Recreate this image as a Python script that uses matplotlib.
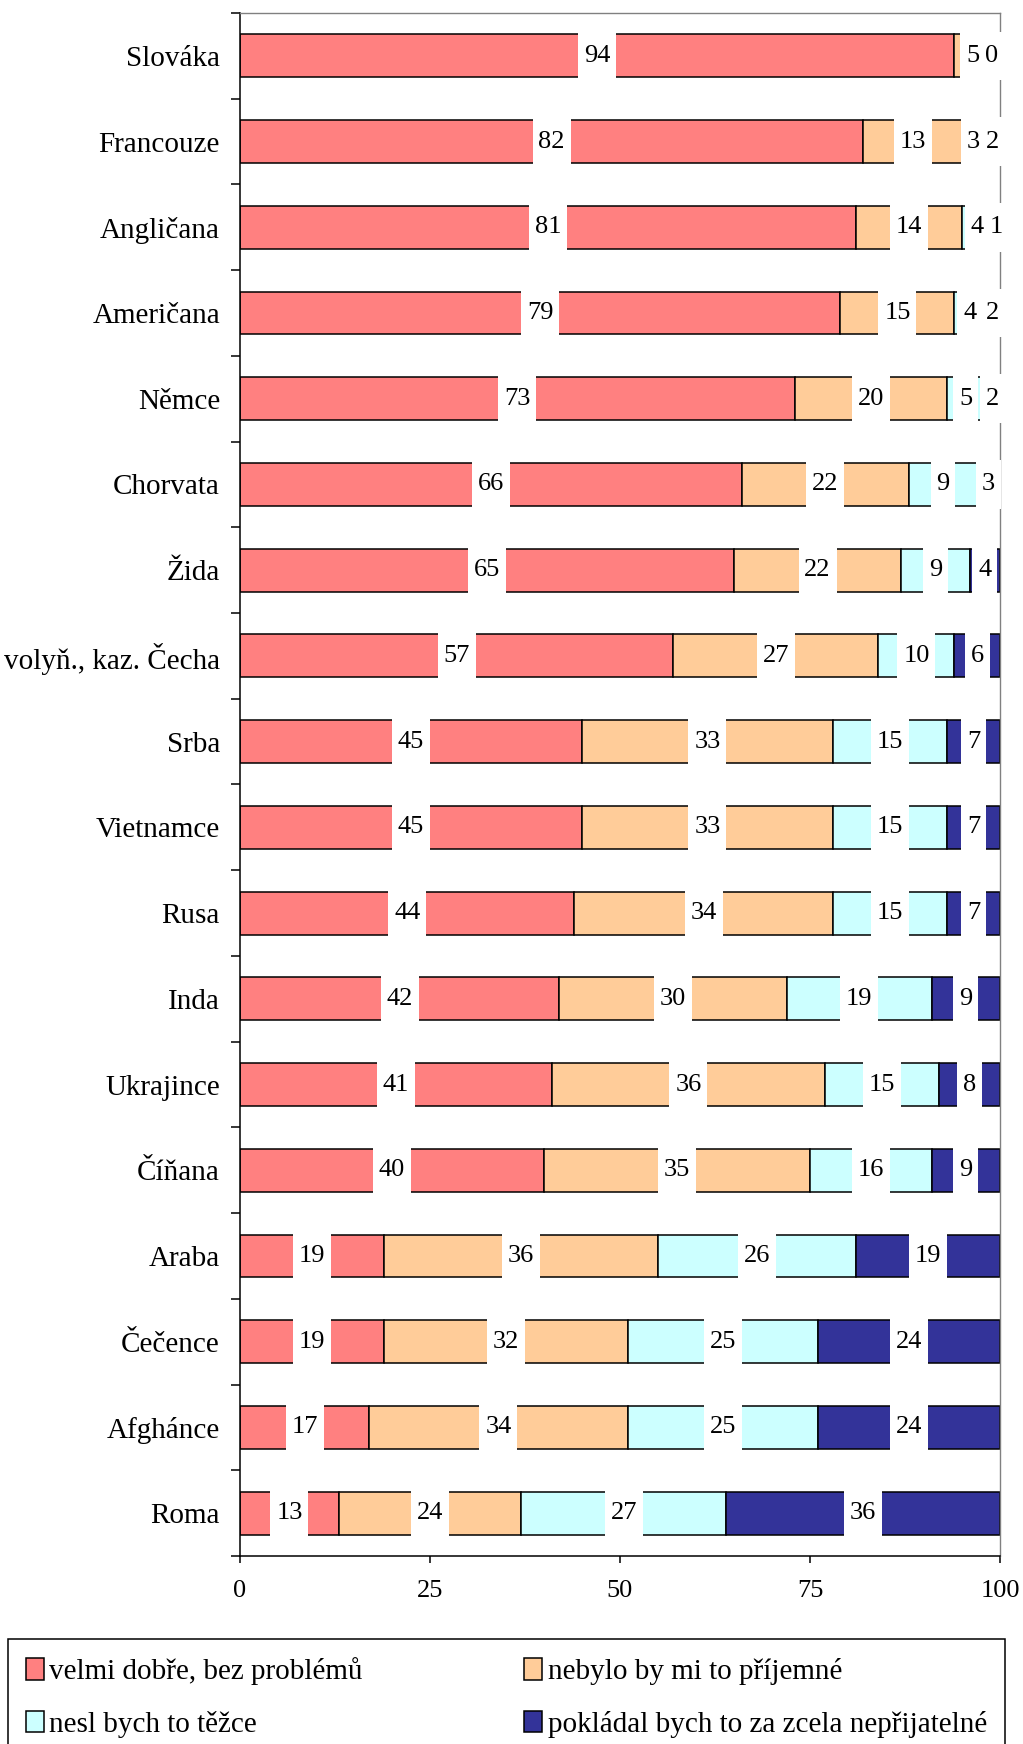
import matplotlib
matplotlib.use("Agg")
import matplotlib.pyplot as plt
from matplotlib.path import Path
import numpy as np

plt.rcParams['font.family'] = ['Liberation Serif', 'DejaVu Serif']

categories = ["Slováka", "Francouze", "Angličana", "Američana", "Němce", "Chorvata",
              "Žida", "volyň., kaz. Čecha", "Srba", "Vietnamce", "Rusa", "Inda",
              "Ukrajince", "Číňana", "Araba", "Čečence", "Afghánce", "Roma"]
velmi_dobre = [94, 82, 81, 79, 73, 66, 65, 57, 45, 45, 44, 42, 41, 40, 19, 19, 17, 13]
nebylo_prijemne = [4.8, 13, 14, 15, 20, 22, 22, 27, 33, 33, 34, 30, 36, 35, 36, 32, 34, 24]
nesl_tezce = [0.3, 3, 4, 4, 5, 9, 9, 10, 15, 15, 15, 19, 15, 16, 26, 25, 25, 27]
neprijatelne = [0, 2, 1, 2, 2, 3, 4, 6, 7, 7, 7, 9, 8, 9, 19, 24, 24, 36]
series_names = ["velmi dobře, bez problémů", "nebylo by mi to příjemné",
                "nesl bych to těžce", "pokládal bych to za zcela nepřijatelné"]
colors = ['#FF8080', '#FFCC99', '#CCFFFF', '#333399']
xticks = [0, 25, 50, 75, 100]

series = [velmi_dobre, nebylo_prijemne, nesl_tezce, neprijatelne]


def label_box(x0, y0, width, height, mutation_size):
    padx = 0.22 * mutation_size
    hh = 0.92 * mutation_size
    cy = y0 + height / 2
    xa = x0 - padx
    xb = x0 + width + padx
    return Path([(xa, cy - hh), (xb, cy - hh), (xb, cy + hh), (xa, cy + hh), (xa, cy - hh)],
                closed=True)


W, H = 1023, 1744
fig = plt.figure(figsize=(W / 100, H / 100), dpi=100)
ax = fig.add_axes([240 / W, 1 - 1556 / H, 760 / W, 1543 / H])

n = len(categories)
y = np.arange(n)
left = np.zeros(n)
containers = []
for vals, name, col in zip(series, series_names, colors):
    vals = np.array(vals, dtype=float)
    bc = ax.barh(y, vals, left=left, height=0.5, color=col, edgecolor='black',
                 linewidth=1.1, label=name, zorder=2)
    containers.append(bc)
    for yi, v, l in zip(y, vals, left):
        if v > 0:
            ax.text(l + v / 2, yi, f"{v:.0f}", ha='center', va='center', fontsize=19,
                    bbox=dict(boxstyle=label_box, fc='white', ec='none'),
                    zorder=5, clip_on=False)
    left += vals

ax.set_xlim(0, 100)
ax.set_ylim(n - 0.5, -0.5)
ax.set_xticks(xticks)
ax.set_xticklabels([str(t) for t in xticks])
ax.tick_params(axis='x', direction='out', length=5, width=1.1, labelsize=19, pad=12)

ax.set_yticks(y)
ax.set_yticklabels(categories, fontsize=21)
ax.set_yticks(np.arange(n + 1) - 0.5, minor=True)
ax.tick_params(axis='y', which='major', length=0, pad=14.4)
ax.tick_params(axis='y', which='minor', direction='out', length=6.5, width=1.1)

for s in ['left', 'bottom']:
    ax.spines[s].set_color('black')
    ax.spines[s].set_linewidth(1.1)
for s in ['top', 'right']:
    ax.spines[s].set_color('#808080')
    ax.spines[s].set_linewidth(1.0)

handles = [containers[0], containers[2], containers[1], containers[3]]
labels = [series_names[i] for i in (0, 2, 1, 3)]
leg = fig.legend(handles, labels, loc='upper left',
                 bbox_to_anchor=(8 / W, 1 - 1639 / H, 997 / W, 0), mode='expand',
                 ncol=2, fontsize=21, frameon=True, fancybox=False, edgecolor='black',
                 framealpha=1, borderpad=0.62, borderaxespad=0, handlelength=0.6,
                 handleheight=0.75, handletextpad=0.2, labelspacing=0.88, columnspacing=1)
leg.get_frame().set_linewidth(1.1)

fig.savefig("out.png", dpi=100)
